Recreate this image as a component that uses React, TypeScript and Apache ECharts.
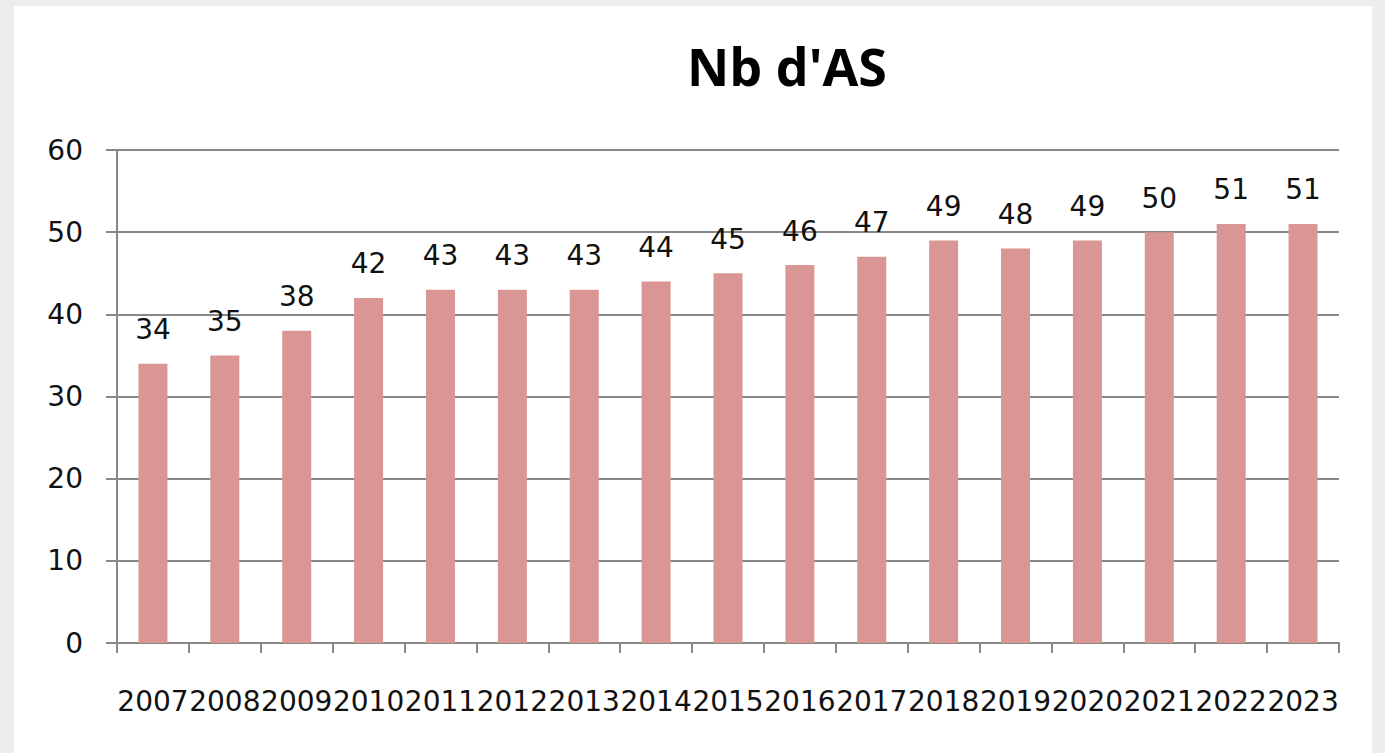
import React, { useEffect, useRef } from "react";
import * as echarts from "echarts";

const years = ["2007","2008","2009","2010","2011","2012","2013","2014","2015","2016","2017","2018","2019","2020","2021","2022","2023"];
const counts = [34, 35, 38, 42, 43, 43, 43, 44, 45, 46, 47, 49, 48, 49, 50, 51, 51];
const titleText = "Nb d'AS";

export default function App() {
  const ref = useRef<HTMLDivElement>(null);
  useEffect(() => {
    if (!ref.current) return;
    const chart = echarts.init(ref.current, null, { renderer: "svg" });
    const font = "DejaVu Sans";
    chart.setOption({
      animation: false,
      backgroundColor: "#eceeee",
      graphic: [
        { type: "rect", z: -10, shape: { x: 14, y: 6, width: 1358, height: 760 }, style: { fill: "#ffffff" } },
      ],
      title: {
        text: titleText,
        left: 782,
        textAlign: "center",
        top: 34,
        textStyle: { fontFamily: "Open Sans", fontWeight: "bold", fontSize: 52, color: "#000000" },
      },
      grid: { left: 117, right: 46, top: 150, bottom: 110, containLabel: false },
      xAxis: {
        type: "category",
        data: years,
        axisLine: { show: true, lineStyle: { color: "#888888", width: 2 } },
        axisTick: { show: true, alignWithLabel: false, length: 10, lineStyle: { color: "#888888", width: 2 } },
        axisLabel: { interval: 0, margin: 44, color: "#111111", fontFamily: font, fontSize: 28 },
      },
      yAxis: {
        type: "value",
        min: 0,
        max: 60,
        interval: 10,
        axisLine: { show: true, lineStyle: { color: "#888888", width: 2 } },
        axisTick: { show: true, length: 11, lineStyle: { color: "#888888", width: 2 } },
        splitLine: { show: true, lineStyle: { color: "#888888", width: 2 } },
        axisLabel: { margin: 34, color: "#111111", fontFamily: font, fontSize: 28 },
      },
      series: [
        {
          type: "bar",
          data: counts,
          barWidth: 29,
          itemStyle: { color: "#d99694" },
          label: {
            show: true,
            position: "top",
            distance: 20,
            color: "#111111",
            fontFamily: font,
            fontSize: 28,
          },
        },
      ],
    });
    return () => chart.dispose();
  }, []);
  return <div ref={ref} style={{ position: "fixed", left: 0, top: 0, width: 1385, height: 753 }} />;
}
